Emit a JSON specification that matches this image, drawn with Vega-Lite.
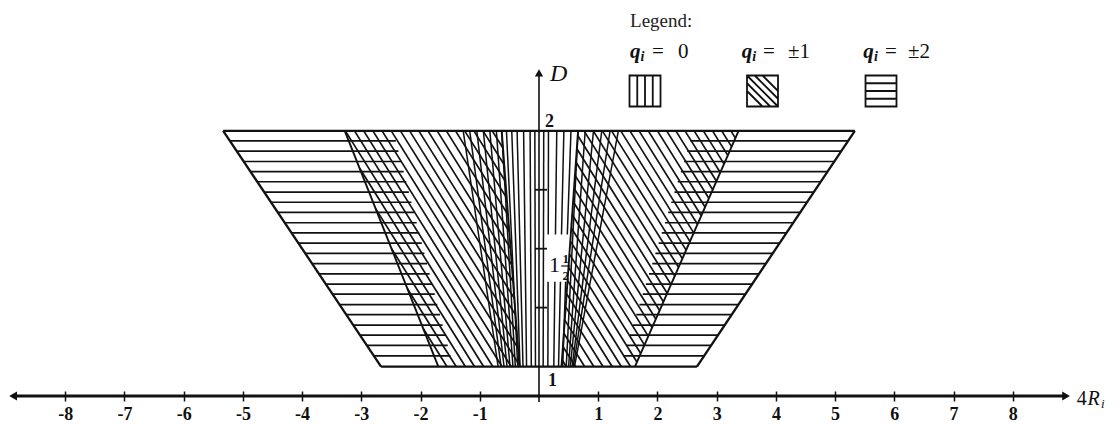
{
  "$schema": "https://vega.github.io/schema/vega-lite/v6.json",
  "width": 1066,
  "height": 396,
  "autosize": {"type": "none"},
  "padding": {"left": 6, "top": 0, "right": 48, "bottom": 29},
  "background": "white",
  "config": {"view": {"stroke": null}, "axis": {"grid": false}},
  "datasets": {
    "slash": [
      {"x": -1.951, "y": 1.159, "x2": -1.555, "y2": 1},
      {"x": -2.222, "y": 1.33, "x2": -1.4, "y2": 1},
      {"x": -2.49, "y": 1.5, "x2": -1.245, "y2": 1},
      {"x": -2.759, "y": 1.67, "x2": -1.09, "y2": 1},
      {"x": -3.028, "y": 1.841, "x2": -0.935, "y2": 1},
      {"x": -3.27, "y": 2, "x2": -0.78, "y2": 1},
      {"x": -3.115, "y": 2, "x2": -0.625, "y2": 1},
      {"x": -2.96, "y": 2, "x2": -0.47, "y2": 1},
      {"x": -2.805, "y": 2, "x2": -0.332, "y2": 1.007},
      {"x": -2.65, "y": 2, "x2": -0.354, "y2": 1.078},
      {"x": -2.495, "y": 2, "x2": -0.374, "y2": 1.148},
      {"x": -2.34, "y": 2, "x2": -0.396, "y2": 1.219},
      {"x": -2.185, "y": 2, "x2": -0.417, "y2": 1.29},
      {"x": -2.03, "y": 2, "x2": -0.438, "y2": 1.361},
      {"x": -1.875, "y": 2, "x2": -0.459, "y2": 1.432},
      {"x": -1.72, "y": 2, "x2": -0.481, "y2": 1.502},
      {"x": -1.565, "y": 2, "x2": -0.502, "y2": 1.573},
      {"x": -1.41, "y": 2, "x2": -0.523, "y2": 1.644},
      {"x": -1.255, "y": 2, "x2": -0.544, "y2": 1.715},
      {"x": -1.1, "y": 2, "x2": -0.566, "y2": 1.785},
      {"x": -0.945, "y": 2, "x2": -0.587, "y2": 1.856},
      {"x": -0.79, "y": 2, "x2": -0.608, "y2": 1.927},
      {"x": 0.388, "y": 1.029, "x2": 0.46, "y2": 1},
      {"x": 0.403, "y": 1.085, "x2": 0.615, "y2": 1},
      {"x": 0.419, "y": 1.141, "x2": 0.77, "y2": 1},
      {"x": 0.435, "y": 1.197, "x2": 0.925, "y2": 1},
      {"x": 0.45, "y": 1.253, "x2": 1.08, "y2": 1},
      {"x": 0.466, "y": 1.309, "x2": 1.235, "y2": 1},
      {"x": 0.482, "y": 1.365, "x2": 1.39, "y2": 1},
      {"x": 0.498, "y": 1.421, "x2": 1.545, "y2": 1},
      {"x": 0.513, "y": 1.477, "x2": 1.653, "y2": 1.019},
      {"x": 0.529, "y": 1.532, "x2": 1.718, "y2": 1.055},
      {"x": 0.545, "y": 1.588, "x2": 1.781, "y2": 1.092},
      {"x": 0.56, "y": 1.644, "x2": 1.845, "y2": 1.129},
      {"x": 0.576, "y": 1.7, "x2": 1.909, "y2": 1.165},
      {"x": 0.592, "y": 1.756, "x2": 1.973, "y2": 1.202},
      {"x": 0.607, "y": 1.812, "x2": 2.037, "y2": 1.238},
      {"x": 0.623, "y": 1.868, "x2": 2.101, "y2": 1.275},
      {"x": 0.639, "y": 1.924, "x2": 2.165, "y2": 1.311},
      {"x": 0.654, "y": 1.98, "x2": 2.229, "y2": 1.348},
      {"x": 0.76, "y": 2, "x2": 2.293, "y2": 1.384},
      {"x": 0.915, "y": 2, "x2": 2.357, "y2": 1.421},
      {"x": 1.07, "y": 2, "x2": 2.42, "y2": 1.458},
      {"x": 1.225, "y": 2, "x2": 2.485, "y2": 1.494},
      {"x": 1.38, "y": 2, "x2": 2.548, "y2": 1.531},
      {"x": 1.535, "y": 2, "x2": 2.613, "y2": 1.567},
      {"x": 1.69, "y": 2, "x2": 2.676, "y2": 1.604},
      {"x": 1.845, "y": 2, "x2": 2.741, "y2": 1.64},
      {"x": 2.0, "y": 2, "x2": 2.804, "y2": 1.677},
      {"x": 2.155, "y": 2, "x2": 2.87, "y2": 1.713},
      {"x": 2.31, "y": 2, "x2": 2.933, "y2": 1.75},
      {"x": 2.465, "y": 2, "x2": 2.995, "y2": 1.787},
      {"x": 2.62, "y": 2, "x2": 3.061, "y2": 1.823},
      {"x": 2.775, "y": 2, "x2": 3.124, "y2": 1.86},
      {"x": 2.93, "y": 2, "x2": 3.189, "y2": 1.896},
      {"x": 3.085, "y": 2, "x2": 3.252, "y2": 1.933},
      {"x": 3.24, "y": 2, "x2": 3.317, "y2": 1.969}
    ],
    "level": [
      {"y": 1.045, "x": -2.787, "x2": -1.495},
      {"y": 1.09, "x": -2.907, "x2": -1.541},
      {"y": 1.133, "x": -3.021, "x2": -1.584},
      {"y": 1.176, "x": -3.136, "x2": -1.628},
      {"y": 1.22, "x": -3.253, "x2": -1.672},
      {"y": 1.263, "x": -3.368, "x2": -1.716},
      {"y": 1.307, "x": -3.485, "x2": -1.76},
      {"y": 1.35, "x": -3.6, "x2": -1.804},
      {"y": 1.393, "x": -3.715, "x2": -1.847},
      {"y": 1.437, "x": -3.832, "x2": -1.891},
      {"y": 1.48, "x": -3.947, "x2": -1.935},
      {"y": 1.524, "x": -4.064, "x2": -1.979},
      {"y": 1.567, "x": -4.179, "x2": -2.023},
      {"y": 1.61, "x": -4.293, "x2": -2.066},
      {"y": 1.654, "x": -4.411, "x2": -2.111},
      {"y": 1.697, "x": -4.525, "x2": -2.154},
      {"y": 1.74, "x": -4.64, "x2": -2.197},
      {"y": 1.784, "x": -4.757, "x2": -2.242},
      {"y": 1.827, "x": -4.872, "x2": -2.285},
      {"y": 1.87, "x": -4.987, "x2": -2.329},
      {"y": 1.914, "x": -5.104, "x2": -2.373},
      {"y": 1.957, "x": -5.219, "x2": -2.417},
      {"y": 1.045, "x": 1.426, "x2": 2.787},
      {"y": 1.09, "x": 1.482, "x2": 2.907},
      {"y": 1.133, "x": 1.535, "x2": 3.021},
      {"y": 1.176, "x": 1.588, "x2": 3.136},
      {"y": 1.22, "x": 1.643, "x2": 3.253},
      {"y": 1.263, "x": 1.696, "x2": 3.368},
      {"y": 1.307, "x": 1.751, "x2": 3.485},
      {"y": 1.35, "x": 1.804, "x2": 3.6},
      {"y": 1.393, "x": 1.857, "x2": 3.715},
      {"y": 1.437, "x": 1.912, "x2": 3.832},
      {"y": 1.48, "x": 1.965, "x2": 3.947},
      {"y": 1.524, "x": 2.02, "x2": 4.064},
      {"y": 1.567, "x": 2.073, "x2": 4.179},
      {"y": 1.61, "x": 2.126, "x2": 4.293},
      {"y": 1.654, "x": 2.181, "x2": 4.411},
      {"y": 1.697, "x": 2.234, "x2": 4.525},
      {"y": 1.74, "x": 2.288, "x2": 4.64},
      {"y": 1.784, "x": 2.342, "x2": 4.757},
      {"y": 1.827, "x": 2.395, "x2": 4.872},
      {"y": 1.87, "x": 2.449, "x2": 4.987},
      {"y": 1.914, "x": 2.503, "x2": 5.104},
      {"y": 1.957, "x": 2.557, "x2": 5.219}
    ],
    "fan": [
      {"x": -1.28, "y": 2, "x2": -0.69, "y2": 1},
      {"x": -1.17, "y": 2, "x2": -0.64, "y2": 1},
      {"x": -1.05, "y": 2, "x2": -0.59, "y2": 1},
      {"x": -0.94, "y": 2, "x2": -0.54, "y2": 1},
      {"x": -0.83, "y": 2, "x2": -0.49, "y2": 1},
      {"x": -0.72, "y": 2, "x2": -0.44, "y2": 1},
      {"x": -0.63, "y": 2, "x2": -0.4, "y2": 1},
      {"x": -0.55, "y": 2, "x2": -0.36, "y2": 1},
      {"x": -0.46, "y": 2, "x2": -0.32, "y2": 1},
      {"x": -0.37, "y": 2, "x2": -0.27, "y2": 1},
      {"x": -0.26, "y": 2, "x2": -0.21, "y2": 1},
      {"x": -0.15, "y": 2, "x2": -0.13, "y2": 1},
      {"x": -0.07, "y": 2, "x2": -0.06, "y2": 1},
      {"x": 0.08, "y": 2, "x2": 0.07, "y2": 1},
      {"x": 0.16, "y": 2, "x2": 0.156, "y2": 1.56},
      {"x": 0.1536, "y": 1.36, "x2": 0.15, "y2": 1},
      {"x": 0.3, "y": 2, "x2": 0.278, "y2": 1.56},
      {"x": 0.268, "y": 1.36, "x2": 0.25, "y2": 1},
      {"x": 0.42, "y": 2, "x2": 0.38, "y2": 1.56},
      {"x": 0.362, "y": 1.36, "x2": 0.33, "y2": 1},
      {"x": 0.54, "y": 2, "x2": 0.478, "y2": 1.56},
      {"x": 0.45, "y": 1.36, "x2": 0.4, "y2": 1},
      {"x": 0.66, "y": 2, "x2": 0.46, "y2": 1},
      {"x": 0.78, "y": 2, "x2": 0.5, "y2": 1},
      {"x": 0.92, "y": 2, "x2": 0.53, "y2": 1},
      {"x": 1.06, "y": 2, "x2": 0.56, "y2": 1},
      {"x": 1.2, "y": 2, "x2": 0.58, "y2": 1},
      {"x": 1.34, "y": 2, "x2": 0.6, "y2": 1}
    ],
    "borders": [
      {"x": -3.28, "y": 2, "x2": -1.7, "y2": 1},
      {"x": 3.37, "y": 2, "x2": 1.62, "y2": 1},
      {"x": -0.63, "y": 2, "x2": -0.33, "y2": 1},
      {"x": 0.66, "y": 2, "x2": 0.38, "y2": 1}
    ],
    "outline": [
      {"x": -5.333, "y": 2, "x2": 5.333, "y2": 2},
      {"x": -2.667, "y": 1, "x2": 2.667, "y2": 1},
      {"x": -5.333, "y": 2, "x2": -2.667, "y2": 1},
      {"x": 5.333, "y": 2, "x2": 2.667, "y2": 1}
    ]
  },
  "encoding": {
    "x": {
      "field": "x",
      "type": "quantitative",
      "scale": {"domain": [-9, 9], "nice": false, "zero": false},
      "axis": {
        "values": [-8, -7, -6, -5, -4, -3, -2, -1, 1, 2, 3, 4, 5, 6, 7, 8],
        "domain": false,
        "grid": false,
        "offset": -5,
        "tickSize": 10,
        "tickWidth": 1.5,
        "tickColor": "#111",
        "labelFont": "Liberation Serif",
        "labelFontSize": 18,
        "labelFontWeight": "bold",
        "labelColor": "#111",
        "labelPadding": 4,
        "labelFlush": false,
        "labelOverlap": false,
        "labelExpr": "replace(datum.label, '−', '-')",
        "title": null
      }
    },
    "y": {
      "field": "y",
      "type": "quantitative",
      "scale": {"domain": [0.875, 2.5551], "nice": false, "zero": false},
      "axis": null
    }
  },
  "layer": [
    {
      "data": {"name": "slash"},
      "mark": {"type": "rule", "stroke": "#111", "strokeWidth": 1.7},
      "encoding": {"x2": {"field": "x2"}, "y2": {"field": "y2"}}
    },
    {
      "data": {"name": "level"},
      "mark": {"type": "rule", "stroke": "#111", "strokeWidth": 1.7},
      "encoding": {"x2": {"field": "x2"}}
    },
    {
      "data": {"name": "fan"},
      "mark": {"type": "rule", "stroke": "#111", "strokeWidth": 1.5},
      "encoding": {"x2": {"field": "x2"}, "y2": {"field": "y2"}}
    },
    {
      "data": {"name": "borders"},
      "mark": {"type": "rule", "stroke": "#111", "strokeWidth": 1.9},
      "encoding": {"x2": {"field": "x2"}, "y2": {"field": "y2"}}
    },
    {
      "data": {"name": "outline"},
      "mark": {"type": "rule", "stroke": "#111", "strokeWidth": 2.3},
      "encoding": {"x2": {"field": "x2"}, "y2": {"field": "y2"}}
    },
    {
      "data": {"values": [{"x": 0, "y": 0.8495, "y2": 2.24}]},
      "mark": {"type": "rule", "stroke": "#111", "strokeWidth": 1.6},
      "encoding": {"y2": {"field": "y2"}}
    },
    {
      "data": {"values": [
        {"x": -0.068, "x2": 0.135, "y": 1.25},
        {"x": -0.068, "x2": 0.135, "y": 1.5},
        {"x": -0.068, "x2": 0.135, "y": 1.75}
      ]},
      "mark": {"type": "rule", "stroke": "#111", "strokeWidth": 1.8},
      "encoding": {"x2": {"field": "x2"}}
    },
    {
      "data": {"values": [{"x": 0.375, "x2": 0.53, "y": 1.4266}]},
      "mark": {"type": "rule", "stroke": "#111", "strokeWidth": 1.2},
      "encoding": {"x2": {"field": "x2"}}
    },
    {
      "data": {"values": [{"x": -8.9, "x2": 8.9, "y": 0.875}]},
      "mark": {"type": "rule", "stroke": "#111", "strokeWidth": 2.8},
      "encoding": {"x2": {"field": "x2"}}
    },
    {
      "data": {"values": [{"x": -8.88, "y": 0.875}]},
      "mark": {"type": "point", "shape": "triangle-left", "filled": true, "size": 80, "color": "#111", "opacity": 1},
      "encoding": {}
    },
    {
      "data": {"values": [{"x": 8.9, "y": 0.875}]},
      "mark": {"type": "point", "shape": "triangle-right", "filled": true, "size": 80, "color": "#111", "opacity": 1},
      "encoding": {}
    },
    {
      "data": {"values": [{"x": 0, "y": 2.246}]},
      "mark": {"type": "point", "shape": "triangle-up", "filled": true, "size": 70, "color": "#111", "opacity": 1},
      "encoding": {}
    },
    {
      "data": {"values": [{"x": 0.1, "y": 2.0163, "t": "2"}, {"x": 0.152, "y": 0.9174, "t": "1"}]},
      "mark": {"type": "text", "align": "left", "baseline": "alphabetic", "font": "Liberation Serif", "fontWeight": "bold", "fontSize": 18, "color": "#111"},
      "encoding": {"text": {"field": "t"}}
    },
    {
      "data": {"values": [{"x": 0.17, "y": 1.401, "t": "1"}]},
      "mark": {"type": "text", "align": "left", "baseline": "alphabetic", "font": "Liberation Serif", "fontSize": 22, "color": "#111"},
      "encoding": {"text": {"field": "t"}}
    },
    {
      "data": {"values": [{"x": 0.452, "y": 1.4393, "t": "1"}, {"x": 0.452, "y": 1.3672, "t": "2"}]},
      "mark": {"type": "text", "align": "center", "baseline": "alphabetic", "font": "Liberation Serif", "fontWeight": "bold", "fontSize": 13, "color": "#111"},
      "encoding": {"text": {"field": "t"}}
    },
    {
      "data": {"values": [{"x": 0.186, "y": 2.2114, "t": "D"}]},
      "mark": {"type": "text", "align": "left", "baseline": "alphabetic", "font": "Liberation Serif", "fontStyle": "italic", "fontSize": 24, "color": "#111"},
      "encoding": {"text": {"field": "t"}}
    },
    {
      "data": {"values": [{"x": 9.08, "y": 0.8368, "t": "4"}]},
      "mark": {"type": "text", "align": "left", "baseline": "alphabetic", "font": "Liberation Serif", "fontSize": 20, "color": "#111"},
      "encoding": {"text": {"field": "t"}}
    },
    {
      "data": {"values": [{"x": 9.26, "y": 0.8368, "t": "R"}]},
      "mark": {"type": "text", "align": "left", "baseline": "alphabetic", "font": "Liberation Serif", "fontStyle": "italic", "fontSize": 20, "color": "#111"},
      "encoding": {"text": {"field": "t"}}
    },
    {
      "data": {"values": [{"x": 9.49, "y": 0.826, "t": "i"}]},
      "mark": {"type": "text", "align": "left", "baseline": "alphabetic", "font": "Liberation Serif", "fontStyle": "italic", "fontSize": 13, "color": "#111"},
      "encoding": {"text": {"field": "t"}}
    },
    {
      "data": {"values": [{"x": 1.537, "y": 2.4406, "t": "Legend:"}]},
      "mark": {"type": "text", "align": "left", "baseline": "alphabetic", "font": "Liberation Serif", "fontSize": 19, "color": "#222"},
      "encoding": {"text": {"field": "t"}}
    },
    {
      "data": {"values": [
        {"x": 1.537, "y": 2.309, "t": "q"},
        {"x": 3.423, "y": 2.309, "t": "q"},
        {"x": 5.476, "y": 2.309, "t": "q"}
      ]},
      "mark": {"type": "text", "align": "left", "baseline": "alphabetic", "font": "Liberation Serif", "fontStyle": "italic", "fontWeight": "bold", "fontSize": 21, "color": "#111"},
      "encoding": {"text": {"field": "t"}}
    },
    {
      "data": {"values": [
        {"x": 1.714, "y": 2.2963, "t": "i"},
        {"x": 3.602, "y": 2.2963, "t": "i"},
        {"x": 5.657, "y": 2.2963, "t": "i"}
      ]},
      "mark": {"type": "text", "align": "left", "baseline": "alphabetic", "font": "Liberation Serif", "fontStyle": "italic", "fontWeight": "bold", "fontSize": 14, "color": "#111"},
      "encoding": {"text": {"field": "t"}}
    },
    {
      "data": {"values": [
        {"x": 1.908, "y": 2.309, "t": "="},
        {"x": 2.347, "y": 2.309, "t": "0"},
        {"x": 3.782, "y": 2.309, "t": "="},
        {"x": 4.205, "y": 2.309, "t": "±1"},
        {"x": 5.843, "y": 2.309, "t": "="},
        {"x": 6.231, "y": 2.309, "t": "±2"}
      ]},
      "mark": {"type": "text", "align": "left", "baseline": "alphabetic", "font": "Liberation Serif", "fontSize": 21, "color": "#111"},
      "encoding": {"text": {"field": "t"}}
    },
    {
      "data": {"values": [{"x": 1.79, "y": 2.169, "q": "0"}]},
      "mark": {"type": "point", "shape": "M-1,-1H1V1H-1Z M-0.5,-1V1 M0,-1V1 M0.5,-1V1", "filled": false, "size": 961, "stroke": "#111", "strokeWidth": 1.8, "opacity": 1},
      "encoding": {}
    },
    {
      "data": {"values": [{"x": 3.774, "y": 2.169, "q": "±1"}]},
      "mark": {"type": "point", "shape": "M-1,-1H1V1H-1Z M-1,-1L1,1 M-0.5,-1L1,0.5 M0,-1L1,0 M-1,-0.5L0.5,1 M-1,0L0,1", "filled": false, "size": 961, "stroke": "#111", "strokeWidth": 1.8, "opacity": 1},
      "encoding": {}
    },
    {
      "data": {"values": [{"x": 5.775, "y": 2.169, "q": "±2"}]},
      "mark": {"type": "point", "shape": "M-1,-1H1V1H-1Z M-1,-0.5H1 M-1,0H1 M-1,0.5H1", "filled": false, "size": 961, "stroke": "#111", "strokeWidth": 1.8, "opacity": 1},
      "encoding": {}
    }
  ]
}
